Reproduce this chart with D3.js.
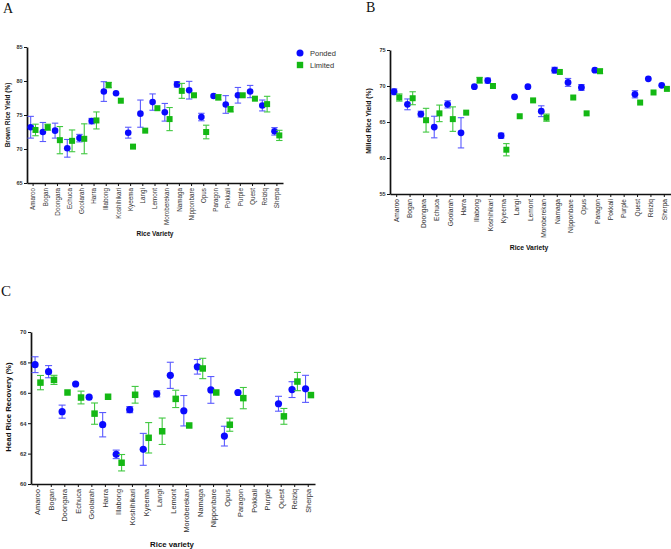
<!DOCTYPE html>
<html>
<head>
<meta charset="utf-8">
<script src="https://cdn.jsdelivr.net/npm/d3@7"></script>
<style>
  body { margin: 0; background: #fff; }
  svg { display: block; font-family: "Liberation Sans", Arial, sans-serif; }
  .axis path, .axis line { stroke: #111; }
</style>
</head>
<body>
<div id="chart"></div>
<script>
// rice varieties on the x axis of every panel
const varieties = ["Amaroo", "Bogan", "Doongara", "Echuca", "Goolarah", "Harra", "Illabong", "Koshihikari",
  "Kyeema", "Langi", "Lemont", "Moroberekan", "Namaga", "Nipponbare", "Opus", "Paragon", "Pokkali",
  "Purple", "Quest", "Reiziq", "Sherpa"];
const seriesNames = ["Ponded", "Limited"];

// A - brown rice yield (%)
const brownPonded    = [73.2, 72.5, 72.7, 70.1, 71.6, 74.1, 78.45, 78.2, 72.4, 75.2, 76.9, 75.4, 79.5, 78.65, 74.7, 77.8, 76.55, 77.9, 78.45, 76.4, 72.6];
const brownPondedErr = [1.6, 1.4, 1.1, 1.3, 0.55, 0.4, 1.45, 0, 0.8, 2.0, 1.2, 1.3, 0.4, 1.3, 0.55, 0, 1.3, 1.15, 0.9, 0.8, 0.55];
const brownLimited    = [72.8, 73.2, 71.3, 71.2, 71.5, 74.2, 79.4, 77.1, 70.35, 72.7, 76.0, 74.4, 78.55, 77.9, 72.5, 77.6, 75.85, 77.9, 77.4, 76.6, 72.0];
const brownLimitedErr = [0.85, 0.45, 2.0, 1.6, 2.2, 1.25, 0.4, 0, 0, 0, 0, 1.7, 1.1, 0, 1.0, 0.4, 0.4, 0, 0, 1.15, 0.75];

// B - milled rice yield (%), no Pokkali / Purple values
const millPonded    = [69.2, 67.45, 66.1, 64.3, 67.45, 63.5, 69.9, 70.75, 63.1, 68.5, 69.9, 66.5, 72.2, 70.5, 69.8, 72.2, null, null, 68.85, 71.0, 70.1];
const millPondedErr = [0.4, 0.75, 0.4, 1.5, 0.5, 2.1, 0, 0.35, 0.35, 0, 0, 0.75, 0.4, 0.55, 0.4, 0, null, null, 0.5, 0, 0];
const millLimited    = [68.4, 68.3, 65.25, 66.2, 65.4, 66.3, 70.8, 70.0, 61.15, 65.8, 68.0, 65.6, 71.95, 68.4, 66.2, 72.05, null, null, 67.7, 69.1, 69.6];
const millLimitedErr = [0.5, 0.9, 1.65, 1.15, 1.7, 0, 0.4, 0, 0.85, 0, 0, 0.5, 0, 0, 0, 0.3, null, null, 0, 0, 0];

// C - head rice recovery (%)
const headPonded    = [67.85, 67.39, 64.76, 66.58, 65.71, 63.9, 61.95, 64.89, 62.28, 65.93, 67.15, 64.82, 67.71, 66.19, 63.15, 66.02, null, null, 65.28, 66.21, 66.26];
const headPondedErr = [0.52, 0.4, 0.43, 0, 0, 0.8, 0.28, 0.2, 1.05, 0.2, 0.86, 1.0, 0.48, 0.88, 0.65, 0, null, null, 0.49, 0.52, 0.89];
const headLimited    = [66.67, 66.85, 66.02, 65.69, 64.63, 65.74, 61.4, 65.87, 63.04, 63.47, 65.6, 63.85, 67.6, 66.02, 63.9, 65.65, null, null, 64.45, 66.74, 65.85];
const headLimitedErr = [0.47, 0.3, 0, 0.42, 0.7, 0, 0.54, 0.55, 1.0, 0.87, 0.57, 0, 0.67, 0, 0.43, 0.7, null, null, 0.52, 0.6, 0];

const brownTicks = [65, 70, 75, 80, 85];
const millTicks = [55, 60, 65, 70, 75];
const headTicks = [60, 62, 64, 66, 68, 70];

const colors = { Ponded: "#0a0aff", Limited: "#14b814" };
const errColors = { Ponded: "#5a5aff", Limited: "#40c840" };

const svg = d3.select("#chart").append("svg").attr("width", 671).attr("height", 549);

function drawPanel(p) {
  const x = d3.scaleBand().domain(varieties).range([p.x0, p.x1]).padding(0);
  const y = d3.scaleLinear().domain(d3.extent(p.ticks)).range([p.yBot, p.yTop]);
  const g = svg.append("g");

  // panel letter
  g.append("text").attr("x", p.letterX).attr("y", p.letterY)
    .style("font-family", "'Liberation Serif', 'DejaVu Serif', serif")
    .style("font-size", p.letterSize + "px").attr("fill", "#111").text(p.letter);

  const xAxis = g.append("g").attr("class", "axis").attr("transform", `translate(0,${p.yBot})`)
    .call(d3.axisBottom(x).tickSize(3).tickSizeOuter(0));
  xAxis.select(".domain").attr("stroke-width", 1.7);
  xAxis.selectAll(".tick line").attr("stroke-width", 1);
  xAxis.selectAll("text")
    .attr("transform", "rotate(-90)").attr("x", -5).attr("y", 0).attr("dy", "0.35em")
    .style("text-anchor", "end").style("font-size", p.xFont + "px").attr("fill", "#333");

  const yAxis = g.append("g").attr("class", "axis").attr("transform", `translate(${p.x0},0)`)
    .call(d3.axisLeft(y).tickValues(p.ticks).tickSize(3).tickSizeOuter(0).tickPadding(1.5));
  yAxis.select(".domain").attr("stroke-width", 1.7);
  yAxis.selectAll(".tick line").attr("stroke-width", 1);
  yAxis.selectAll("text").style("font-size", p.yFont + "px").style("font-weight", "700").attr("fill", "#333");

  // axis titles
  g.append("text").attr("transform", `translate(${p.yLabelX},${p.yLabelY}) rotate(-90)`)
    .attr("text-anchor", "middle").attr("dy", "0.35em")
    .style("font-size", p.titleFont + "px").style("font-weight", "700").attr("fill", "#111").text(p.yTitle);
  g.append("text").attr("x", p.xLabelX).attr("y", p.xLabelY).attr("text-anchor", "middle")
    .style("font-size", p.titleFont + "px").style("font-weight", "700").attr("fill", "#111").text(p.xTitle);

  const bw = x.bandwidth();
  p.series.forEach((s, si) => {
    const off = (si === 0 ? -1 : 1) * p.offset;
    const pts = varieties.map((v, i) => ({ v, val: s.values[i], err: s.errs[i] }))
      .filter(d => d.val != null);
    const cx = d => x(d.v) + bw / 2 + off;
    const eg = g.append("g").attr("stroke", errColors[s.name]).attr("stroke-width", 1.1);
    pts.filter(d => d.err > 0).forEach(d => {
      const x0 = cx(d);
      eg.append("line").attr("x1", x0).attr("x2", x0).attr("y1", y(d.val - d.err)).attr("y2", y(d.val + d.err));
      [d.val - d.err, d.val + d.err].forEach(e => {
        eg.append("line").attr("x1", x0 - p.cap).attr("x2", x0 + p.cap).attr("y1", y(e)).attr("y2", y(e));
      });
    });
    if (s.name === "Ponded") {
      g.append("g").selectAll("circle").data(pts).join("circle")
        .attr("cx", cx).attr("cy", d => y(d.val)).attr("r", p.r).attr("fill", colors.Ponded);
    } else {
      g.append("g").selectAll("rect").data(pts).join("rect")
        .attr("x", d => cx(d) - p.sq / 2).attr("y", d => y(d.val) - p.sq / 2)
        .attr("width", p.sq).attr("height", p.sq).attr("fill", colors.Limited);
    }
  });
}

drawPanel({
  letter: "A", letterX: 3, letterY: 13, letterSize: 14,
  x0: 27, x1: 283, yTop: 47, yBot: 183, ticks: brownTicks,
  xFont: 6.3, yFont: 5.5, titleFont: 6.5, offset: 2.4, r: 3.3, sq: 6, cap: 3.2,
  yTitle: "Brown Rice Yield (%)", yLabelX: 8, yLabelY: 115,
  xTitle: "Rice Variety", xLabelX: 155, xLabelY: 236,
  series: [
    { name: "Ponded", values: brownPonded, errs: brownPondedErr },
    { name: "Limited", values: brownLimited, errs: brownLimitedErr }
  ]
});

drawPanel({
  letter: "B", letterX: 366, letterY: 12, letterSize: 14,
  x0: 390, x1: 671, yTop: 50, yBot: 194, ticks: millTicks,
  xFont: 6.6, yFont: 5.5, titleFont: 6.8, offset: 2.6, r: 3.4, sq: 6, cap: 3.2,
  yTitle: "Milled Rice Yield (%)", yLabelX: 369, yLabelY: 121,
  xTitle: "Rice Variety", xLabelX: 529, xLabelY: 250,
  series: [
    { name: "Ponded", values: millPonded, errs: millPondedErr },
    { name: "Limited", values: millLimited, errs: millLimitedErr }
  ]
});

drawPanel({
  letter: "C", letterX: 1, letterY: 296, letterSize: 15,
  x0: 31, x1: 315, yTop: 332, yBot: 484, ticks: headTicks,
  xFont: 7.4, yFont: 5.8, titleFont: 7.8, offset: 2.7, r: 3.6, sq: 6.5, cap: 3.5,
  yTitle: "Head Rice Recovery (%)", yLabelX: 8, yLabelY: 407,
  xTitle: "Rice variety", xLabelX: 172, xLabelY: 547,
  series: [
    { name: "Ponded", values: headPonded, errs: headPondedErr },
    { name: "Limited", values: headLimited, errs: headLimitedErr }
  ]
});

// legend for panel A
const legend = svg.append("g").attr("transform", "translate(300,53)");
seriesNames.forEach((name, i) => {
  const row = legend.append("g").attr("transform", `translate(0,${i * 12})`);
  if (name === "Ponded") row.append("circle").attr("r", 3.5).attr("fill", colors.Ponded);
  else row.append("rect").attr("x", -3.2).attr("y", -3.2).attr("width", 6.4).attr("height", 6.4).attr("fill", colors.Limited);
  row.append("text").attr("x", 10).attr("dy", "0.35em").style("font-size", "7.5px").attr("fill", "#333").text(name);
});
</script>
</body>
</html>
